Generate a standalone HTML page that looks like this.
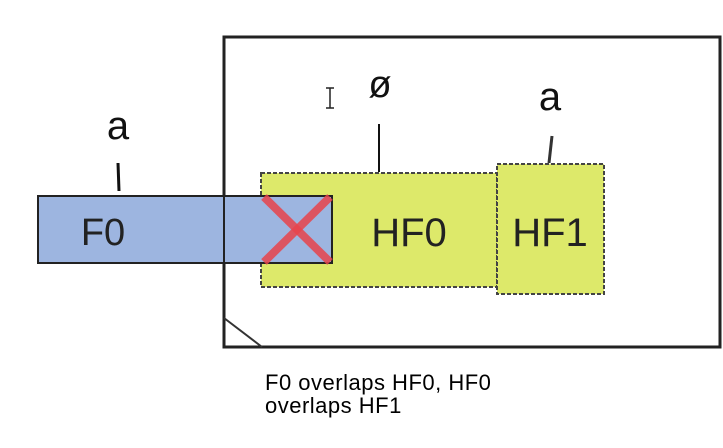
<!DOCTYPE html>
<html><head><meta charset="utf-8"><style>
html,body{margin:0;padding:0;background:#fff;width:723px;height:448px;overflow:hidden}
svg{position:absolute;left:0;top:0}
.cap{position:absolute;left:265px;top:371px;font:22px/23px "Liberation Sans",sans-serif;letter-spacing:0.5px;color:#000}
</style></head><body>
<svg width="723" height="448" xmlns="http://www.w3.org/2000/svg">
<rect x="224" y="37" width="496" height="310" fill="none" stroke="#222" stroke-width="3"/>
<line x1="224" y1="318" x2="262" y2="347" stroke="#333" stroke-width="2"/>
<rect x="261" y="173" width="236" height="114" fill="#dde96a" stroke="#444" stroke-width="2" stroke-dasharray="4 2"/>
<rect x="497" y="164" width="107" height="130" fill="#dde96a" stroke="#444" stroke-width="2" stroke-dasharray="4 2"/>
<rect x="38" y="196" width="294" height="67" fill="#9db5e0" stroke="#222" stroke-width="2"/>
<line x1="224" y1="196" x2="224" y2="263" stroke="#222" stroke-width="2"/>
<line x1="264" y1="197" x2="330" y2="262" stroke="#e8444c" stroke-width="8" opacity="0.85"/>
<line x1="330" y1="197" x2="264" y2="262" stroke="#e8444c" stroke-width="8" opacity="0.85"/>
<line x1="118" y1="163" x2="119" y2="191" stroke="#111" stroke-width="3"/>
<line x1="379" y1="124" x2="379" y2="172" stroke="#111" stroke-width="2"/>
<line x1="552" y1="136" x2="549" y2="163" stroke="#333" stroke-width="3"/>
<g font-family="Liberation Sans, DejaVu Sans, sans-serif" fill="#111">
<text x="118" y="139" font-size="40" text-anchor="middle">a</text>
<text x="380" y="97" font-size="38" text-anchor="middle">ø</text>
<text x="550" y="110" font-size="40" text-anchor="middle">a</text>
<text x="103" y="245" font-size="38" text-anchor="middle" fill="#222">F0</text>
<text x="409" y="246" font-size="40" text-anchor="middle" fill="#222">HF0</text>
<text x="550" y="246" font-size="40" text-anchor="middle" fill="#222">HF1</text>
</g>
<path d="M326 88h8M330 88v20M326 108h8" stroke="#222" stroke-width="1.5" fill="none"/>
</svg>
<div class="cap">F0 overlaps HF0, HF0<br>overlaps HF1</div>
</body></html>
